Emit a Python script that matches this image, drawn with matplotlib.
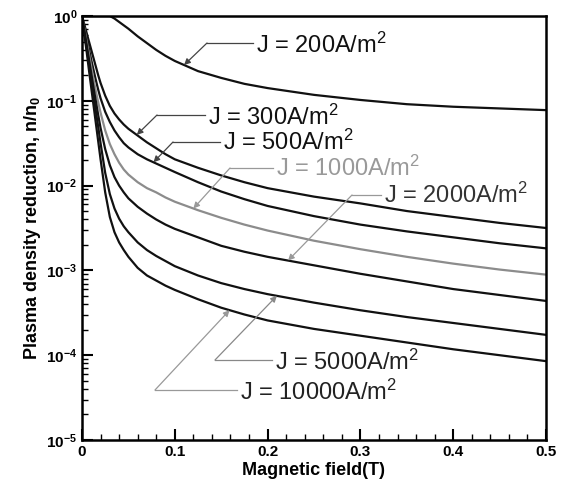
import numpy as np
import matplotlib
matplotlib.use("Agg")
import matplotlib.pyplot as plt
from matplotlib.ticker import MultipleLocator, LogLocator, FixedFormatter, FixedLocator

plt.rcParams['font.family'] = ['Liberation Sans', 'DejaVu Sans']
plt.rcParams['mathtext.default'] = 'regular'

# magnetic field (T) where the curves were read
field = [0, 0.0025, 0.005, 0.0075, 0.01, 0.0125, 0.015, 0.0175, 0.02, 0.025,
         0.03, 0.035, 0.04, 0.045, 0.05, 0.06, 0.07, 0.08, 0.09, 0.1,
         0.125, 0.15, 0.175, 0.2, 0.25, 0.3, 0.35, 0.4, 0.45, 0.5]

# log10(n/n0), one list per current density
log_n_200 = [0, 0, 0, 0, 0, 0, 0, 0, 0, 0,
             0, -0.03, -0.07, -0.11, -0.15, -0.24, -0.32, -0.40, -0.47, -0.53,
             -0.65, -0.73, -0.80, -0.85, -0.93, -0.99, -1.04, -1.07, -1.09, -1.11]
log_n_300 = [0, -0.10, -0.20, -0.30, -0.40, -0.50, -0.60, -0.70, -0.79, -0.94,
             -1.06, -1.15, -1.22, -1.28, -1.33, -1.41, -1.49, -1.56, -1.63, -1.69,
             -1.79, -1.88, -1.96, -2.03, -2.13, -2.21, -2.30, -2.37, -2.44, -2.50]
log_n_500 = [0, -0.13, -0.26, -0.39, -0.52, -0.64, -0.76, -0.87, -0.97, -1.13,
             -1.25, -1.35, -1.43, -1.50, -1.55, -1.63, -1.69, -1.74, -1.79, -1.84,
             -1.96, -2.07, -2.16, -2.24, -2.36, -2.46, -2.54, -2.61, -2.68, -2.74]
log_n_1000 = [0, -0.15, -0.30, -0.45, -0.60, -0.75, -0.89, -1.02, -1.14, -1.35,
              -1.51, -1.63, -1.73, -1.81, -1.87, -1.96, -2.03, -2.08, -2.14, -2.19,
              -2.29, -2.38, -2.46, -2.53, -2.65, -2.75, -2.84, -2.92, -2.99, -3.05]
log_n_2000 = [0, -0.17, -0.34, -0.51, -0.68, -0.85, -1.01, -1.17, -1.32, -1.57,
              -1.76, -1.90, -2.00, -2.08, -2.15, -2.25, -2.33, -2.40, -2.46, -2.51,
              -2.61, -2.71, -2.78, -2.84, -2.94, -3.04, -3.13, -3.22, -3.29, -3.36]
log_n_5000 = [0, -0.19, -0.38, -0.56, -0.75, -0.94, -1.13, -1.31, -1.50, -1.85,
              -2.10, -2.27, -2.39, -2.48, -2.55, -2.67, -2.76, -2.83, -2.89, -2.95,
              -3.06, -3.15, -3.22, -3.28, -3.38, -3.47, -3.55, -3.62, -3.69, -3.76]
log_n_10000 = [0, -0.21, -0.42, -0.64, -0.85, -1.06, -1.27, -1.48, -1.69, -2.08,
               -2.37, -2.55, -2.67, -2.76, -2.84, -2.97, -3.06, -3.12, -3.18, -3.23,
               -3.34, -3.44, -3.52, -3.59, -3.69, -3.77, -3.85, -3.93, -4.00, -4.07]

labels = ["J = 200A/m$^2$", "J = 300A/m$^2$", "J = 500A/m$^2$", "J = 1000A/m$^2$",
          "J = 2000A/m$^2$", "J = 5000A/m$^2$", "J = 10000A/m$^2$"]
curves = [log_n_200, log_n_300, log_n_500, log_n_1000, log_n_2000, log_n_5000, log_n_10000]
colors = ["#111111", "#111111", "#111111", "#8c8c8c", "#111111", "#111111", "#111111"]

# where each label's arrow touches its curve (field value)
arrow_at = [0.11, 0.059, 0.077, 0.12, 0.222, 0.21, 0.159]
# elbow / text positions in pixels of the 566x487 figure
elbow_px = [(207, 43), (157, 115), (173, 142), (230, 168), (352, 195), (215, 360), (155, 390)]
text_px = [(256, 45), (208, 117), (223, 142), (276, 168), (384, 195), (275, 362), (240, 392)]
lead_colors = ["#444444", "#444444", "#444444", "#999999", "#999999", "#888888", "#999999"]
text_colors = ["#111111", "#111111", "#111111", "#999999", "#333333", "#222222", "#222222"]

W, H = 566, 487
fig = plt.figure(figsize=(W / 100, H / 100), dpi=100)
ax = fig.add_axes([82 / W, 1 - 440 / H, 464 / W, 424 / H])

for vals, c in zip(curves, colors):
    ax.plot(field, 10 ** np.array(vals), color=c, lw=1.6)

ax.set_yscale("log")
ax.set_xlim(0, 0.5)
ax.set_ylim(1e-5, 1)


def px_to_data(px, py):
    x = (px - 82) / 928.0
    y = 10 ** (-(py - 16) / 84.8)
    return x, y


for vals, b, e, t, lc, tc, lab in zip(curves, arrow_at, elbow_px, text_px,
                                       lead_colors, text_colors, labels):
    tip = (b, 10 ** np.interp(b, field, vals))
    ex, ey = px_to_data(*e)
    tx, ty = px_to_data(*t)
    ax.annotate("", xy=tip, xytext=(ex, ey),
                arrowprops=dict(arrowstyle="-|>", color=lc, lw=0.9,
                                mutation_scale=9, shrinkA=0, shrinkB=0))
    ax.plot([ex, tx - 0.003], [ey, ey], color=lc, lw=0.9)
    ax.text(tx, ty, lab, fontsize=17, color=tc, va="center", ha="left")

ax.xaxis.set_major_locator(FixedLocator([0, 0.1, 0.2, 0.3, 0.4, 0.5]))
ax.xaxis.set_major_formatter(FixedFormatter(["0", "0.1", "0.2", "0.3", "0.4", "0.5"]))
ax.xaxis.set_minor_locator(MultipleLocator(0.02))
ax.yaxis.set_major_locator(LogLocator(base=10, numticks=10))
ax.yaxis.set_minor_locator(LogLocator(base=10, subs=np.arange(2, 10), numticks=10))

ax.tick_params(axis="both", which="major", direction="in", length=8, width=1.5,
               labelsize=11, top=False, right=False)
ax.tick_params(axis="both", which="minor", direction="in", length=4, width=1.0,
               top=False, right=False)
for lab in ax.get_xticklabels() + ax.get_yticklabels():
    lab.set_fontweight("bold")

for sp in ax.spines.values():
    sp.set_linewidth(1.8)

ax.set_xlabel("Magnetic field(T)", fontsize=13, fontweight="bold", labelpad=2)
ax.set_ylabel("Plasma density reduction, n/n$_0$", fontsize=13, fontweight="bold", labelpad=2)

fig.savefig("out.png", dpi=100)
